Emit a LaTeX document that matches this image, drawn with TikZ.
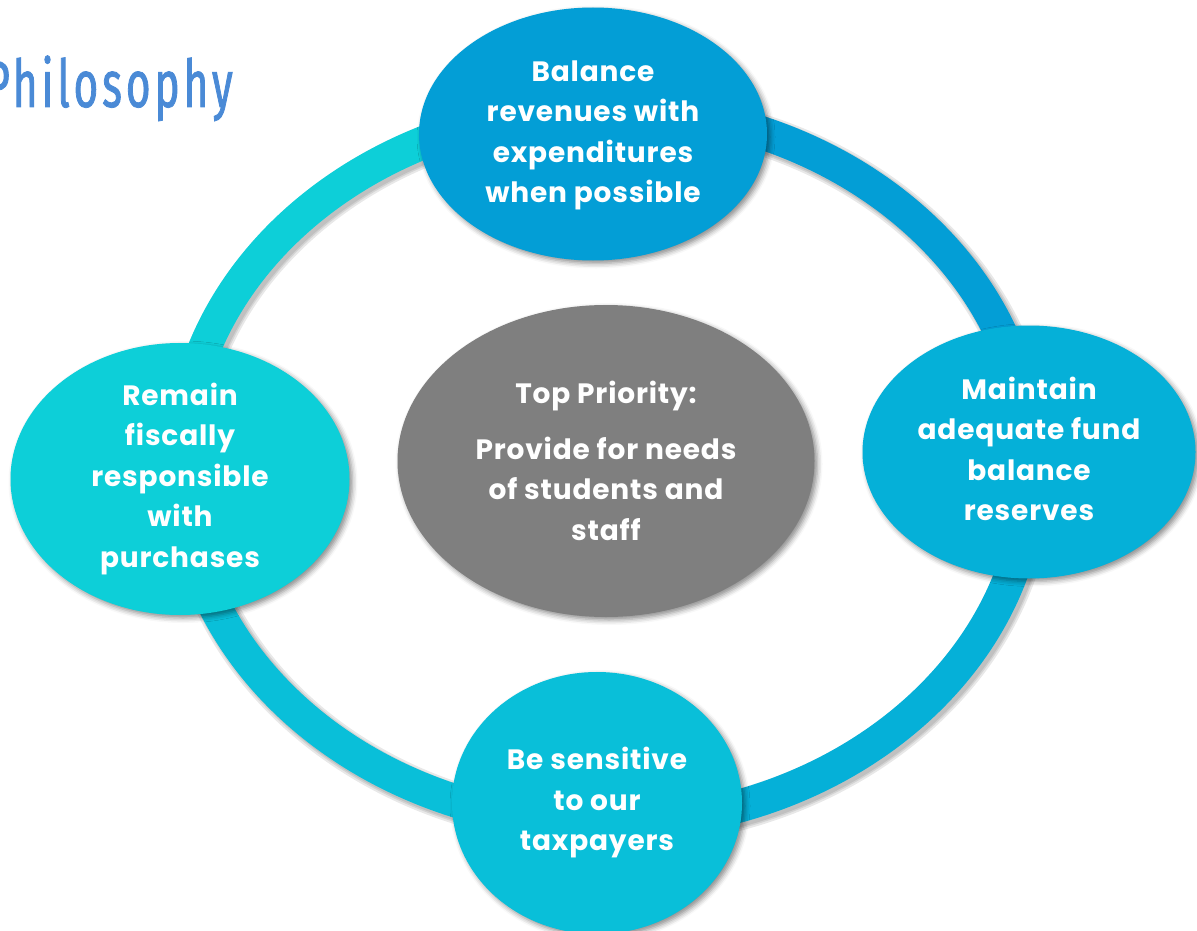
\documentclass[tikz,border=0pt]{standalone}
\usepackage{fontspec}
\setmainfont{Poppins}[LetterSpace=3]
\newfontfamily\titlefont[FakeStretch=0.64,LetterSpace=6,FakeBold=1.2]{Fira Sans}
\usetikzlibrary{shapes.geometric,shadows.blur}
\definecolor{cTop}{HTML}{039ED6}
\definecolor{cRight}{HTML}{05B0D8}
\definecolor{cBottom}{HTML}{09BFD9}
\definecolor{cLeft}{HTML}{0DCFD8}
\definecolor{cCenter}{HTML}{7F7F7F}
\definecolor{cTitle}{HTML}{4A8AD6}
\begin{document}
\begin{tikzpicture}[x=1pt,y=-1pt,
  bubble/.style={ellipse, inner sep=0pt, text=white, align=center,
    font=\fontsize{28}{40.5}\selectfont\bfseries,
    blur shadow={shadow xshift=3pt, shadow yshift=-3pt, shadow blur radius=5pt, shadow opacity=45}},
  ringseg/.style={line width=33pt},
  ringshadow/.style={line width=#1, black, opacity=0.09},
]
\useasboundingbox (0,0) rectangle (1197,931);

% ring
\coordinate (ringC) at (606,466);
\coordinate (ringCs) at (609,469);
\coordinate (rT) at (606,108);
\coordinate (rR) at (1031,466);
\coordinate (rB) at (606,824);
\coordinate (rL) at (181,466);

\draw[ringshadow=41pt] (ringCs) ellipse[x radius=425, y radius=358];
\draw[ringshadow=37pt] (ringCs) ellipse[x radius=425, y radius=358];
\draw[ringshadow=34pt] (ringCs) ellipse[x radius=425, y radius=358];

\draw[ringseg, cTop] (rT) arc[start angle=270, end angle=360, x radius=425, y radius=358];
\draw[ringseg, cRight] (rR) arc[start angle=0, end angle=90, x radius=425, y radius=358];
\draw[ringseg, cBottom] (rB) arc[start angle=90, end angle=180, x radius=425, y radius=358];
\draw[ringseg, cLeft] (rL) arc[start angle=180, end angle=270, x radius=425, y radius=358];

% title
\node[anchor=base east, inner sep=0pt, text=cTitle, font=\titlefont\fontsize{66}{70}\selectfont] (title) at (233,107) {Philosophy};

% bubbles
\node[bubble, fill=cTop, minimum width=348pt, minimum height=253pt] (top) at (593,134)
  {\raisebox{-4pt}{\begin{tabular}{@{}c@{}}Balance\\revenues with\\expenditures\\when possible\end{tabular}}};
\node[bubble, fill=cRight, minimum width=333pt, minimum height=253pt] (right) at (1029,452)
  {\raisebox{-2pt}{\begin{tabular}{@{}c@{}}Maintain\\adequate fund\\balance\\reserves\end{tabular}}};
\node[bubble, fill=cBottom, minimum width=290pt, minimum height=262pt] (bottom) at (597,803)
  {Be sensitive\\to our\\taxpayers};
\node[bubble, fill=cLeft, minimum width=339pt, minimum height=272pt] (left) at (180,479)
  {Remain\\fiscally\\responsible\\with\\purchases};
\node[bubble, fill=cCenter, minimum width=417pt, minimum height=312pt] (center) at (606,461)
  {Top Priority:\\[15pt]Provide for needs\\of students and\\staff};
\end{tikzpicture}
\end{document}
